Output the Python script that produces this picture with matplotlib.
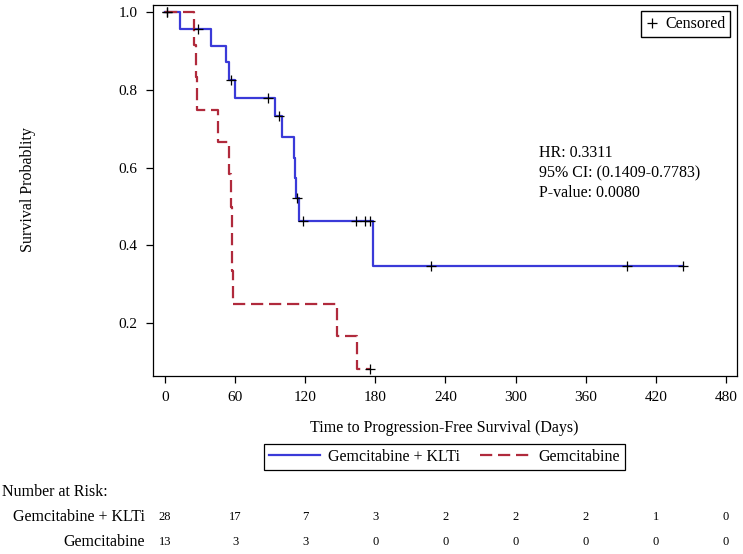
import numpy as np
import matplotlib.pyplot as plt
from matplotlib.lines import Line2D
from matplotlib.transforms import blended_transform_factory

plt.rcParams['font.family'] = ['Liberation Serif', 'DejaVu Serif']

# Gemcitabine + KLTi: drop times and survival after each drop
kl_times = [0, 12.8, 39.1, 52.2, 54.5, 59.9, 94.1, 99.8, 110.4, 111.5, 112.5, 114.7, 178.3]
kl_surv = [1.0, 0.957, 0.914, 0.871, 0.826, 0.779, 0.732, 0.680, 0.625, 0.574, 0.523, 0.464, 0.348]
kl_end = 443.5
kl_cens = [1.4, 28.0, 56.2, 87.8, 97.8, 113.2, 117.8, 163.2, 171.1, 175.4, 227.6, 395.6, 443.5]

# Gemcitabine
gem_times = [0, 25.1, 26.5, 27.8, 45.0, 55.0, 56.2, 57.6, 58.5, 146.9, 164.0]
gem_surv = [1.0, 0.917, 0.833, 0.750, 0.667, 0.583, 0.500, 0.333, 0.250, 0.167, 0.083]
gem_end = 175.4
gem_cens = [1.4, 175.4]

risk_times = [0, 60, 120, 180, 240, 300, 360, 420, 480]
risk_kl = [28, 17, 7, 3, 2, 2, 2, 1, 0]
risk_gem = [13, 3, 3, 0, 0, 0, 0, 0, 0]

stats_lines = ['HR: 0.3311', '95% CI: (0.1409-0.7783)', 'P-value: 0.0080']

blue = '#3a3ad8'
red = '#b02a3c'

fig = plt.figure(figsize=(7.43, 5.54), dpi=100)
ax = fig.add_axes([152.7/743, 1-376/554, (736.7-152.7)/743, (376-5)/554])


def step_curve(times, surv, end, cens, color, ls, dashes=None):
    xs = list(times) + [end]
    ys = list(surv) + [surv[-1]]
    line, = ax.step(xs, ys, where='post', color=color, lw=1.6, ls=ls)
    if dashes:
        line.set_dashes(dashes)
    idx = np.searchsorted(times, cens, side='right') - 1
    ax.plot(cens, np.array(surv)[idx], ls='none', marker='+', color='black',
            ms=7, mew=0.9, zorder=5)


step_curve(kl_times, kl_surv, kl_end, kl_cens, blue, '-')
step_curve(gem_times, gem_surv, gem_end, gem_cens, red, '--', dashes=(5.5, 2.6))

ax.set_xlim(-10.5, 489.2)
ax.set_ylim(0.064, 1.019)
ax.set_xticks(risk_times)
ax.set_yticks([0.2, 0.4, 0.6, 0.8, 1.0])
ax.set_yticklabels(['%.1f' % v for v in [0.2, 0.4, 0.6, 0.8, 1.0]])
ax.tick_params(direction='out', length=5, width=0.9, labelsize=11, pad=6)
for s in ax.spines.values():
    s.set_linewidth(0.9)

fig.text(28/743, 1-190/554, 'Survival Probablity', rotation=90, ha='center', va='center', fontsize=11.5)
fig.text(444.7/743, 1-428/554, 'Time to Progression-Free Survival (Days)', ha='center', va='center', fontsize=11.5)

for i, t in enumerate(stats_lines):
    ax.text(0.662, 0.601 - i*0.054, t, transform=ax.transAxes, fontsize=11.5, va='center')

cens_handle = Line2D([], [], ls='none', marker='+', color='black', ms=7, mew=0.9)
ax.legend([cens_handle], ['Censored'], loc='upper right', fontsize=11.5, frameon=True,
          fancybox=False, edgecolor='black', framealpha=1, borderpad=0.3,
          handlelength=0.8, handletextpad=0.4, borderaxespad=0.4)

h1 = Line2D([], [], color=blue, lw=1.6)
h2 = Line2D([], [], color=red, lw=1.6, ls='--', dashes=(5.5, 2.6))
leg = fig.legend([h1, h2], ['Gemcitabine + KLTi', 'Gemcitabine'], loc='center',
                 bbox_to_anchor=(444.7/743, 1-457/554), ncol=2, fontsize=11.5,
                 frameon=True, fancybox=False, edgecolor='black', framealpha=1,
                 borderpad=0.3, handlelength=3.2, columnspacing=1.2, handletextpad=0.5)
leg.get_frame().set_linewidth(0.9)

fig.text(2/743, 1-492/554, 'Number at Risk:', ha='left', va='center', fontsize=11.5)
fig.text(145/743, 1-516.7/554, 'Gemcitabine + KLTi', ha='right', va='center', fontsize=11.5)
fig.text(145/743, 1-541.7/554, 'Gemcitabine', ha='right', va='center', fontsize=11.5)
trans = blended_transform_factory(ax.transData, fig.transFigure)
for t, a, b in zip(risk_times, risk_kl, risk_gem):
    fig.text(t, 1-516.7/554, str(a), transform=trans, ha='center', va='center', fontsize=9)
    fig.text(t, 1-541.7/554, str(b), transform=trans, ha='center', va='center', fontsize=9)

fig.savefig('out.png', dpi=100)
